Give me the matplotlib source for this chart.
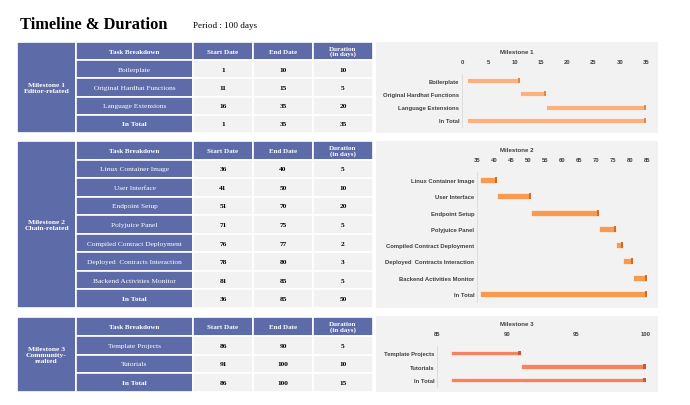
import matplotlib
matplotlib.use('Agg')
import matplotlib.pyplot as plt
from matplotlib.patches import Rectangle

# 数据
m1_tasks = ['Boilerplate', 'Original Hardhat Functions', 'Language Extensions', 'In Total']
m1_start = [1, 11, 16, 1]
m1_end = [10, 15, 35, 35]
m1_dur = [10, 5, 20, 35]

m2_tasks = ['Linux Container Image', 'User Interface', 'Endpoint Setup', 'Polyjuice Panel',
            'Compiled Contract Deployment', 'Deployed  Contracts Interaction',
            'Backend Activities Monitor', 'In Total']
m2_start = [36, 41, 51, 71, 76, 78, 81, 36]
m2_end = [40, 50, 70, 75, 77, 80, 85, 85]
m2_dur = [5, 10, 20, 5, 2, 3, 5, 50]

m3_tasks = ['Template Projects', 'Tutorials', 'In Total']
m3_start = [86, 91, 86]
m3_end = [90, 100, 100]
m3_dur = [5, 10, 15]

headers = ['Task Breakdown', 'Start Date', 'End Date', 'Duration\n(in days)']
milestones = ['Milestone 1\nEditor-related', 'Milestone 2\nChain-related', 'Milestone 3\nCommunity-\nrealted']

W, H = 690, 406
BLUE = '#5d6ba8'
GREY = '#f2f2f2'
SERIF = 'Liberation Serif'
SANS = 'Liberation Sans'
TXT = '#404040'

fig = plt.figure(figsize=(W / 100, H / 100), dpi=100)
fig.patch.set_facecolor('white')


def px_axes(x0, y0, x1, y1):
    return fig.add_axes([x0 / W, 1 - y1 / H, (x1 - x0) / W, (y1 - y0) / H])


# 标题
fig.text(20 / W, 1 - 25 / H, 'Timeline & Duration', family=SERIF, weight='bold',
         fontsize=11.8, va='center', ha='left')
fig.text(193 / W, 1 - 26 / H, 'Period : 100 days', family=SERIF, fontsize=6.6,
         va='center', ha='left')

col_w = [59, 117, 60, 60, 60]


def draw_table(y0, y1, label, tasks, start, end, dur):
    ax = px_axes(17, y0, 373, y1)
    n = len(tasks) + 1
    ax.set_xlim(0, sum(col_w))
    ax.set_ylim(n, 0)
    ax.axis('off')
    edges = [0]
    for w in col_w:
        edges.append(edges[-1] + w)
    # 里程碑列
    ax.add_patch(Rectangle((0, 0), col_w[0], n, facecolor=BLUE, edgecolor='white', lw=1.2))
    ax.text(col_w[0] / 2, n / 2, label, color='white', family=SERIF, weight='bold',
            fontsize=5.4, ha='center', va='center', linespacing=1.3)
    for r in range(n):
        for c in range(1, 5):
            fc = BLUE if (r == 0 or c == 1) else GREY
            ax.add_patch(Rectangle((edges[c], r), col_w[c], 1, facecolor=fc,
                                   edgecolor='white', lw=1.2))
            cx = edges[c] + col_w[c] / 2
            if r == 0:
                ax.text(cx, r + 0.5, headers[c - 1], color='white', family=SERIF,
                        weight='bold', fontsize=5, ha='center', va='center', linespacing=1.0)
            else:
                i = r - 1
                if c == 1:
                    bold = tasks[i] == 'In Total'
                    ax.text(cx, r + 0.5, tasks[i], color='white', family=SERIF,
                            weight='bold' if bold else 'normal', fontsize=5.3,
                            ha='center', va='center')
                else:
                    val = [start, end, dur][c - 2][i]
                    ax.text(cx, r + 0.5, str(val), color='black', family=SERIF,
                            weight='bold', fontsize=5.3, ha='center', va='center')


def draw_chart(py0, py1, ax_box, title, title_y, tasks, start, dur, xlim, color, cap,
               bar_h):
    fig.patches.append(Rectangle((376 / W, 1 - py1 / H), (658 - 376) / W, (py1 - py0) / H,
                                 transform=fig.transFigure, facecolor=GREY,
                                 edgecolor='none', zorder=-5))
    fig.text(517 / W, 1 - title_y / H, title, family=SANS, weight='bold', fontsize=4.4,
             color=TXT, ha='center', va='center')
    ax = px_axes(*ax_box)
    ax.patch.set_alpha(0)
    y = list(range(len(tasks)))
    ax.barh(y, dur, left=start, height=bar_h, color=color, edgecolor='white', lw=0.4)
    # 3D 柱子末端的深色面
    cap_w = (xlim[1] - xlim[0]) * 0.012
    ends = [min(s + d, xlim[1]) for s, d in zip(start, dur)]
    ax.barh(y, [cap_w] * len(y), left=[e - cap_w for e in ends], height=bar_h,
            color=cap, edgecolor='none')
    ax.set_xlim(*xlim)
    ax.set_ylim(len(tasks) - 0.5, -0.5)
    ax.set_xticks(range(xlim[0], xlim[1] + 1, 5))
    ax.set_yticks(y)
    ax.set_yticklabels(tasks)
    ax.xaxis.tick_top()
    ax.tick_params(length=0, labelsize=4.2, colors=TXT, pad=2)
    ax.tick_params(axis='x', pad=7)
    for lab in ax.get_xticklabels() + ax.get_yticklabels():
        lab.set_family(SANS)
        lab.set_weight('bold')
    for s in ['top', 'right', 'bottom']:
        ax.spines[s].set_visible(False)
    ax.spines['left'].set_color('#d9d9d9')
    ax.spines['left'].set_linewidth(0.6)


draw_table(43, 134, milestones[0], m1_tasks, m1_start, m1_end, m1_dur)
draw_table(142, 309, milestones[1], m2_tasks, m2_start, m2_end, m2_dur)
draw_table(318, 393, milestones[2], m3_tasks, m3_start, m3_end, m3_dur)

draw_chart(43, 134, (462, 75, 646, 128), 'Milestone 1', 53, m1_tasks, m1_start, m1_dur,
           (0, 35), '#f9b27f', '#d88a52', 0.38)
draw_chart(142, 309, (477, 173, 647, 303), 'Milestone 2', 151, m2_tasks, m2_start, m2_dur,
           (35, 85), '#f99a4e', '#c96f2e', 0.38)
draw_chart(317, 393, (437, 347, 646, 388), 'Milestone 3', 325, m3_tasks, m3_start, m3_dur,
           (85, 100), '#f6825f', '#c9573b', 0.32)

fig.savefig('out.png', dpi=100)
